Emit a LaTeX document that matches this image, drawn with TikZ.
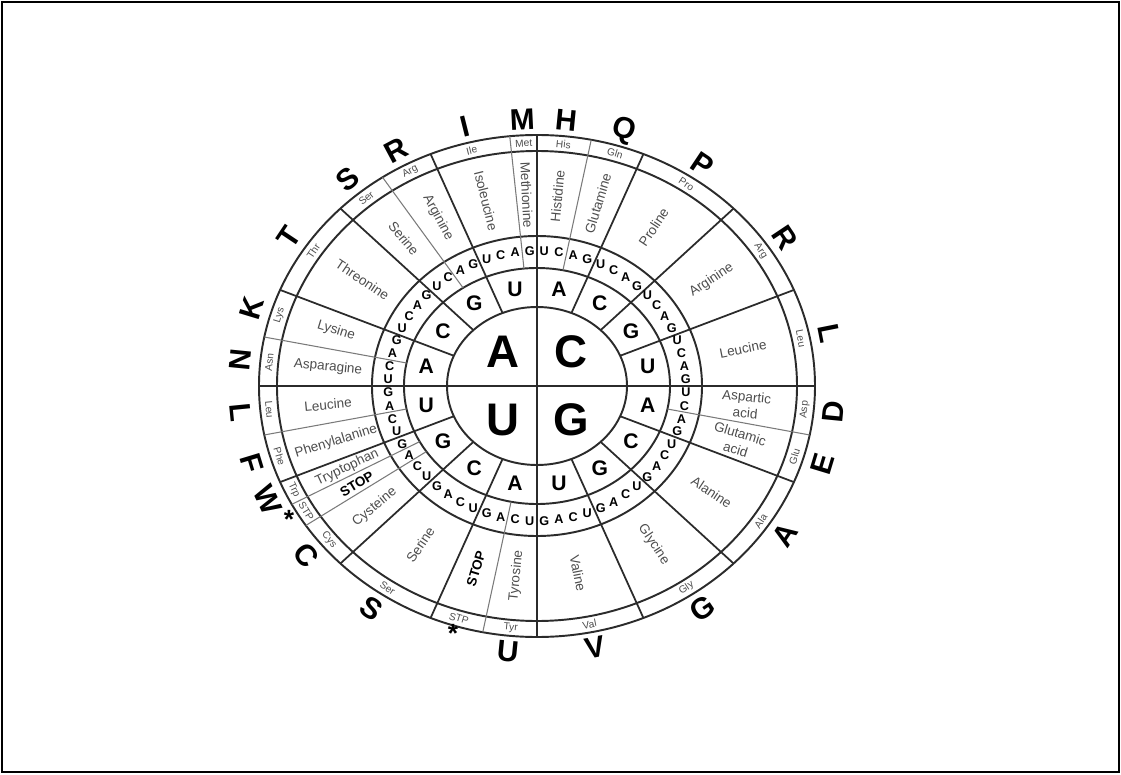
\documentclass[tikz,border=0pt]{standalone}
\usepackage{fontspec}
\setmainfont{Liberation Sans}
\usepackage{xcolor}
\usepackage{tikz}
\usetikzlibrary{calc}
\definecolor{wheelgray}{HTML}{2B2B2B}
\definecolor{splitgray}{HTML}{7A7A7A}
\definecolor{namegray}{HTML}{4D4D4D}
\tikzset{
  frame/.style={draw=black,line width=1.6pt},
  ring/.style={draw=wheelgray,line width=1.1pt},
  spoke/.style={draw=wheelgray,line width=1pt},
  subspoke/.style={draw=splitgray,line width=0.6pt},
  firstbase/.style={font=\fontsize{26}{26}\selectfont\bfseries,inner sep=0pt},
  secondbase/.style={font=\fontsize{12}{12}\selectfont\bfseries,inner sep=0pt},
  thirdbase/.style={font=\fontsize{7.2}{7.2}\selectfont\bfseries,inner sep=0pt},
  aaname/.style={font=\fontsize{7.7}{9.2}\selectfont,text=namegray,align=center,inner sep=0pt},
  stopname/.style={font=\fontsize{7.7}{9.2}\selectfont\bfseries,text=black,inner sep=0pt},
  aaabbr/.style={font=\fontsize{5.8}{6}\selectfont,text=namegray,inner sep=0pt},
  oneletter/.style={font=\fontsize{17}{17}\selectfont\bfseries,inner sep=0pt},
  stopmark/.style={font=\fontsize{15}{15}\selectfont\bfseries,inner sep=0pt}
}

\begin{document}
\begin{tikzpicture}[x=0.02cm,y=0.02cm]
  \useasboundingbox (-537,-388) rectangle (584,386);
  \draw[frame] (-535,384) rectangle (582,-386);
  \foreach \rx/\ry in {90/79,133/118,165/150,260/235,278/251}
    \draw[ring] (0,0) ellipse [x radius=\rx, y radius=\ry];
  \draw[spoke] (180:278 and 251) -- (0:278 and 251);
  \draw[spoke] (90:278 and 251) -- (270:278 and 251);
  \foreach \a in {22.5,45,67.5,112.5,135,157.5,202.5,225,247.5,292.5,315,337.5}
    \draw[spoke] (\a:90 and 79) -- (\a:278 and 251);
  \foreach \a in {78.75,-11.25,-101.25,-146.25,-151.875,-168.75,168.75,123.75,95.625}
    \draw[subspoke] (\a:133 and 118) -- (\a:278 and 251);

  \node[firstbase] (first-A) at (-34,34) {A};
  \node[firstbase] (first-C) at (34,34) {C};
  \node[firstbase] (first-U) at (-34,-34) {U};
  \node[firstbase] (first-G) at (34,-34) {G};

  \foreach \q in {0,...,3}
    \foreach \b [count=\s from 0] in {A,C,G,U}
      \node[secondbase] (second-\q\s) at ({90-90*\q-22.5*\s-11.25}:113 and 99) {\b};

  \foreach \q in {0,...,3}
    \foreach \s in {0,...,3}
      \foreach \b [count=\t from 0] in {U,C,A,G}
        \node[thirdbase] (third-\q\s\t) at ({90-90*\q-22.5*\s-5.625*\t-2.8125}:149 and 135) {\b};

  \foreach \ang/\name/\abbr/\one [count=\i] in {84.375/Histidine/His/H, 73.125/Glutamine/Gln/Q,
      56.25/Proline/Pro/P, 33.75/Arginine/Arg/R, 11.25/Leucine/Leu/L,
      -5.625/{Aspartic\\acid}/Asp/D, -16.875/{Glutamic\\acid}/Glu/E, -33.75/Alanine/Ala/A,
      -56.25/Glycine/Gly/G, -78.75/Valine/Val/V, -95.625/Tyrosine/Tyr/U, -123.75/Serine/Ser/S,
      -140.625/Cysteine/Cys/C, -154.6875/Tryptophan/Trp/W, -163.125/Phenylalanine/Phe/F,
      -174.375/Leucine/Leu/L, 174.375/Asparagine/Asn/N, 163.125/Lysine/Lys/K,
      146.25/Threonine/Thr/T, 129.375/Serine/Ser/S, 118.125/Arginine/Arg/R,
      104.0625/Isoleucine/Ile/I, 92.8125/Methionine/Met/M}{
    \pgfmathsetmacro{\rn}{cos(\ang) < 0 ? \ang+180 : \ang}
    \pgfmathsetmacro{\rt}{sin(\ang) < 0 ? \ang+90 : \ang-90}
    \node[aaname,rotate=\rn] (aa-\i) at (\ang:210 and 191) {\name};
    \node[aaabbr,rotate=\rt] (abbr-\i) at (\ang:269 and 243) {\abbr};
    \node[oneletter,rotate=\rt] (code-\i) at (\ang:298 and 267) {\one};
  }

  \foreach \ang [count=\i] in {-106.875,-149.0625}{
    \pgfmathsetmacro{\rn}{\ang+180}
    \pgfmathsetmacro{\rt}{\ang+90}
    \node[stopname,rotate=\rn] (stop-\i) at (\ang:210 and 191) {STOP};
    \node[aaabbr,rotate=\rt] (stopabbr-\i) at (\ang:269 and 243) {STP};
    \node[stopmark] (stopmark-\i) at (\ang:289 and 259) {*};
  }
\end{tikzpicture}
\end{document}
